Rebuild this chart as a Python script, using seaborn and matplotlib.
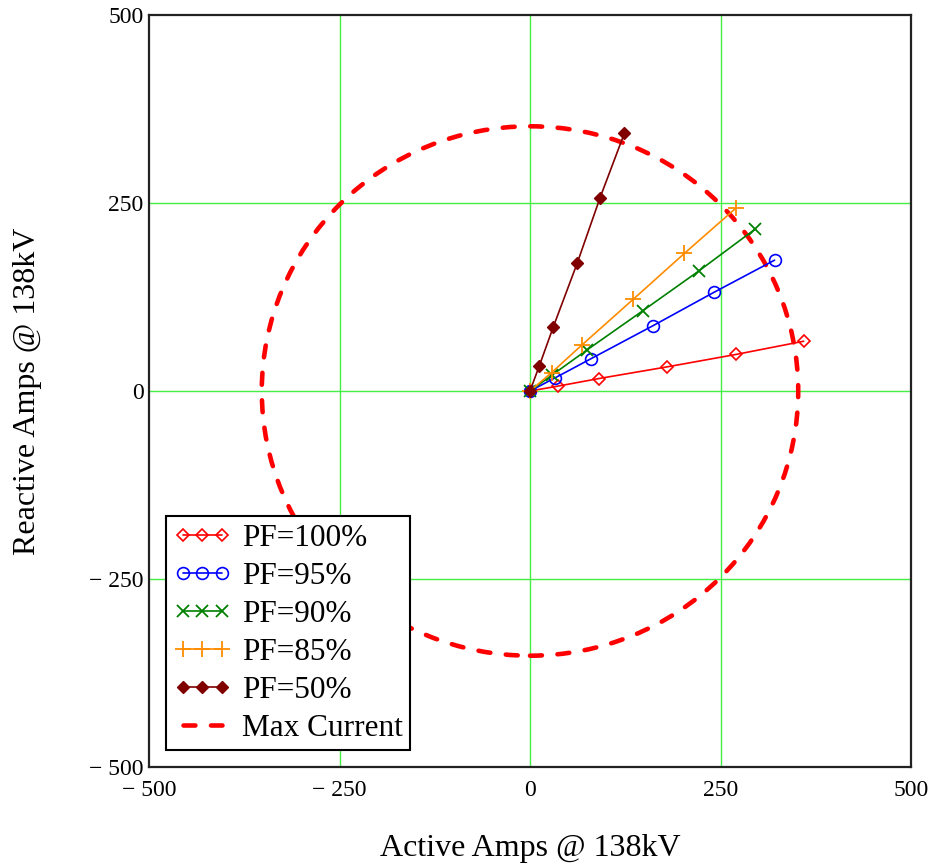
import matplotlib
matplotlib.use("Agg")
import matplotlib.pyplot as plt
from matplotlib.lines import Line2D
from matplotlib.patches import Circle
import seaborn as sns
import pandas as pd

# Active / reactive current at 138 kV for each power factor
pf100_active = [0, 36.3, 90.6, 179.4, 270.3, 359.2]
pf100_reactive = [0, 6.4, 16.6, 32.0, 48.6, 66.2]

pf95_active = [0, 32.8, 80.5, 161.0, 241.0, 321.0]
pf95_reactive = [0, 17.4, 43.2, 86.6, 131.0, 174.0]

pf90_active = [0, 29.5, 74.4, 147.9, 221.8, 295.3]
pf90_reactive = [0, 21.6, 54.3, 106.6, 159.8, 215.2]

pf85_active = [0, 28.5, 67.8, 135.6, 202.5, 270.7]
pf85_reactive = [0, 24.6, 60.9, 122.1, 182.9, 243.6]

pf50_active = [0, 12.2, 30.6, 62.1, 91.9, 123.8]
pf50_reactive = [0, 33.4, 85.3, 170.4, 256.9, 342.6]

max_current_radius = 352

series_labels = ["PF=100%", "PF=95%", "PF=90%", "PF=85%", "PF=50%"]
tick_values = [-500, -250, 0, 250, 500]
tick_labels = ["\u2212 500", "\u2212 250", "0", "250", "500"]

sns.set_style("white")
plt.rcParams["font.family"] = ["Liberation Serif", "DejaVu Serif"]
plt.rcParams["text.color"] = "black"
plt.rcParams["axes.labelcolor"] = "black"

fig = plt.figure(figsize=(9.41, 8.65), dpi=100)
ax = fig.add_axes([149 / 941, 1 - 767 / 865, 762 / 941, 752 / 865])

styles = [
    dict(color="#ff0000", mec="#ff0000", marker="D", mfc="none", ms=6, mew=1.2),
    dict(color="#0000ff", mec="#0000ff", marker="o", mfc="none", ms=8.5, mew=1.2),
    dict(color="#008000", mec="#008000", marker="x", ms=8, mew=1.3),
    dict(color="#ff8c00", mec="#ff8c00", marker="+", ms=11, mew=1.3),
    dict(color="#800000", mec="#800000", marker="D", ms=6, mew=1.0),
]
data = [
    (pf100_active, pf100_reactive),
    (pf95_active, pf95_reactive),
    (pf90_active, pf90_reactive),
    (pf85_active, pf85_reactive),
    (pf50_active, pf50_reactive),
]

dash = (0, (2.6, 3.4))

handles = []
for (xs, ys), label, st in zip(data, series_labels, styles):
    df = pd.DataFrame({"active": xs, "reactive": ys})
    sns.lineplot(data=df, x="active", y="reactive", ax=ax, sort=False,
                 estimator=None, lw=1.2, zorder=4, legend=False, **st)
    handles.append(Line2D([], [], lw=1.2, **st))

# Maximum current limit
ax.add_patch(Circle((0, 0), max_current_radius, fill=False, edgecolor="#ff0000",
                    lw=3.3, ls=dash, capstyle="round", zorder=3))
handles.append(Line2D([], [], color="#ff0000", lw=3.3, ls=dash,
                      dash_capstyle="round"))

ax.set_xlim(-500, 500)
ax.set_ylim(-500, 500)
ax.set_xticks(tick_values)
ax.set_xticklabels(tick_labels)
ax.set_yticks(tick_values)
ax.set_yticklabels(tick_labels)
ax.tick_params(axis="x", length=0, labelsize=17, pad=9, colors="black")
ax.tick_params(axis="y", length=0, labelsize=17, pad=4, colors="black")

for v in [-250, 0, 250]:
    ax.axvline(v, color="#44ee44", lw=1.0, zorder=1)
    ax.axhline(v, color="#44ee44", lw=1.0, zorder=1)

for s in ax.spines.values():
    s.set_color("#222222")
    s.set_linewidth(1.6)

ax.set_xlabel("Active Amps @ 138kV", fontsize=23, labelpad=24)
ax.set_ylabel("Reactive Amps @ 138kV", fontsize=23, labelpad=34)

leg = ax.legend(handles, series_labels + ["Max Current"], loc="lower left",
                bbox_to_anchor=(0.022, 0.022), numpoints=3, fontsize=22.5,
                frameon=True, fancybox=False, edgecolor="black", framealpha=1,
                handlelength=1.85, handletextpad=0.35, labelspacing=0.29,
                borderpad=0.24, borderaxespad=0.0)
leg.get_frame().set_linewidth(1.5)
leg.set_zorder(6)

fig.savefig("out.png", dpi=100)
